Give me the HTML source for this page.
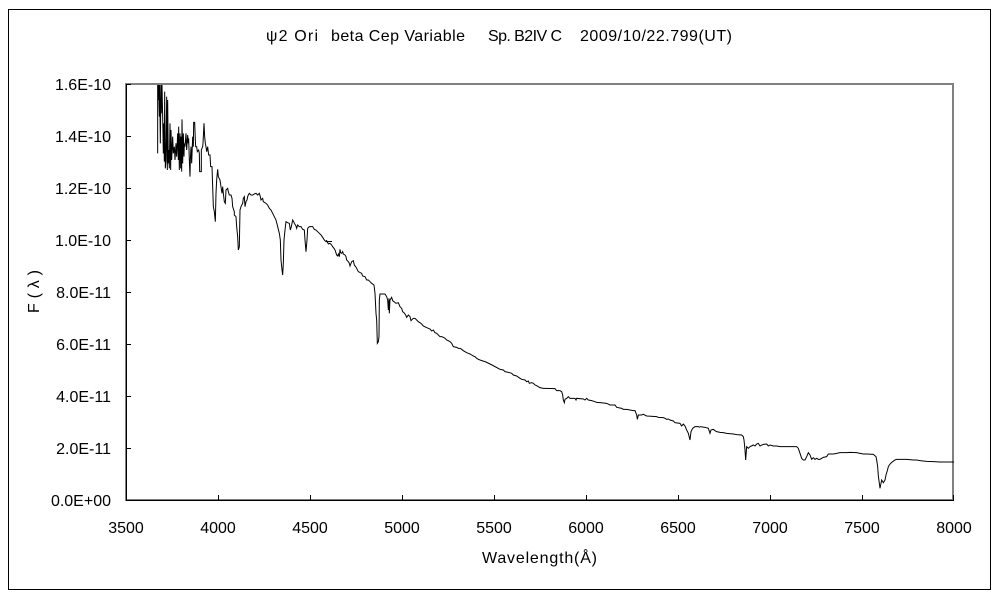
<!DOCTYPE html>
<html>
<head>
<meta charset="utf-8">
<style>
  html,body{margin:0;padding:0;background:#fff;}
  svg{display:block;}
  text{font-family:"Liberation Sans","Noto Sans CJK JP",sans-serif;fill:#000;}
</style>
</head>
<body>
<svg width="1000" height="600" viewBox="0 0 1000 600" xmlns="http://www.w3.org/2000/svg">
  <rect x="0" y="0" width="1000" height="600" fill="#fff"/>
  <!-- outer chart border -->
  <rect x="8.5" y="9.5" width="982" height="580" fill="none" stroke="#000" stroke-width="1"/>

  <!-- title -->
  <text y="41" font-size="16">
    <tspan x="266" textLength="52" lengthAdjust="spacing">ψ2 Ori</tspan>
    <tspan x="331" textLength="134" lengthAdjust="spacing">beta Cep Variable</tspan>
    <tspan x="488" textLength="74" lengthAdjust="spacing">Sp. B2IV C</tspan>
    <tspan x="580" textLength="152" lengthAdjust="spacing">2009/10/22.799(UT)</tspan>
  </text>

  <!-- plot area border (gray) -->
  <rect x="126" y="84" width="827" height="416" fill="none" stroke="#808080" stroke-width="2"/>
  <!-- axes -->
  <line x1="126.5" y1="84" x2="126.5" y2="500.5" stroke="#000" stroke-width="1"/>
  <line x1="126" y1="500.5" x2="954" y2="500.5" stroke="#000" stroke-width="1"/>

  <!-- y ticks -->
  <g stroke="#000" stroke-width="1">
    <line x1="126" y1="448.5" x2="131" y2="448.5"/>
    <line x1="126" y1="396.5" x2="131" y2="396.5"/>
    <line x1="126" y1="344.5" x2="131" y2="344.5"/>
    <line x1="126" y1="292.5" x2="131" y2="292.5"/>
    <line x1="126" y1="240.5" x2="131" y2="240.5"/>
    <line x1="126" y1="188.5" x2="131" y2="188.5"/>
    <line x1="126" y1="136.5" x2="131" y2="136.5"/>
    <line x1="126" y1="84.5" x2="131" y2="84.5"/>
  <!-- x ticks -->
    <line x1="218.5" y1="495" x2="218.5" y2="500"/>
    <line x1="310.5" y1="495" x2="310.5" y2="500"/>
    <line x1="402.5" y1="495" x2="402.5" y2="500"/>
    <line x1="494.5" y1="495" x2="494.5" y2="500"/>
    <line x1="586.5" y1="495" x2="586.5" y2="500"/>
    <line x1="678.5" y1="495" x2="678.5" y2="500"/>
    <line x1="770.5" y1="495" x2="770.5" y2="500"/>
    <line x1="862.5" y1="495" x2="862.5" y2="500"/>
    <line x1="953.5" y1="495" x2="953.5" y2="500"/>
  </g>

  <!-- y tick labels -->
  <g font-size="16" text-anchor="end">
    <text x="111" y="506">0.0E+00</text>
    <text x="111" y="454">2.0E-11</text>
    <text x="111" y="402">4.0E-11</text>
    <text x="111" y="350">6.0E-11</text>
    <text x="111" y="298">8.0E-11</text>
    <text x="111" y="246">1.0E-10</text>
    <text x="111" y="194">1.2E-10</text>
    <text x="111" y="142">1.4E-10</text>
    <text x="111" y="90">1.6E-10</text>
  </g>
  <!-- x tick labels -->
  <g font-size="16" text-anchor="middle">
    <text x="126" y="533">3500</text>
    <text x="218" y="533">4000</text>
    <text x="310" y="533">4500</text>
    <text x="402" y="533">5000</text>
    <text x="494" y="533">5500</text>
    <text x="586" y="533">6000</text>
    <text x="678" y="533">6500</text>
    <text x="770" y="533">7000</text>
    <text x="862" y="533">7500</text>
    <text x="954" y="533">8000</text>
  </g>

  <!-- axis titles -->
  <text x="482" y="563" font-size="16" textLength="115" lengthAdjust="spacing">Wavelength(Å)</text>
  <text transform="translate(39,313) rotate(-90)" font-size="16" textLength="43" lengthAdjust="spacing">F(λ)</text>

  <defs>
    <clipPath id="pa"><rect x="126" y="84" width="828" height="416"/></clipPath>
  </defs>

  <g clip-path="url(#pa)" fill="none" stroke="#000" stroke-width="1" stroke-linejoin="miter">
    <g transform="translate(126,80) scale(0.3333333)">
      <polyline vector-effect="non-scaling-stroke" points="95,220 95,15 97,60 98,15 100,110 101,15 103,190 105,15 106,100 108,15 110,110 112,220 113,130 115,245 116,35 118,265 120,240 122,50 124,270 125,60 127,250 128,210 130,265 132,130 134,270 135,150 137,240 140,170 142,220 145,200 147,240 150,190 152,230 155,160 157,240 158,140 160,270 162,160 164,265 165,170 167,275 168,118 170,250 172,160 174,230 175,190 177,200 180,160 182,210 185,165 187,190 188,175 190,240 192,290 193,240 195,200 197,250 200,170 202,200 203,127 206,127 208,180 209,200 212,200 214,215 218,210 220,220 221,275 226,275 226,210 230,200 231,190 234,130 236,170 238,190 240,200 242,215 245,200 248,225 252,225 254,260 258,260 260,320 262,380 265,395 268,425 270,340 272,300 275,268 277,290 282,300 285,320 288,340 290,320 292,340 295,365 298,370 300,330 305,325 307,335 310,345 315,345 318,355 320,380 325,395 325,405 330,410 332,440 335,470 337,510 340,500 342,390 345,380 350,370 352,355 355,350 357,380 360,365 363,360 365,350 367,345 370,340 375,345 380,345 385,342 390,340 395,345 400,340 403,350 405,360 410,355 412,365 420,370 425,375 430,385 435,390 440,400 445,410 450,420 455,440 460,460 463,480 465,540 468,570 470,585 472,550 474,480 477,450 480,425 485,428 490,430 493,450 496,440 500,420 503,425 505,430 510,438 512,445 515,435 520,440 525,440 530,448 535,450 537,480 540,515 543,480 545,445 550,440 555,440 560,440 565,448 570,450 575,455 580,460 585,465 590,472 595,480 600,485 618,484.5"/>
    </g>
    <g transform="translate(320,200) scale(0.3333333)">
      <polyline vector-effect="non-scaling-stroke" points="18,121.5 20,122 25,132 30,130 35,135 38,140 42,145 45,150 50,165 53,168 55,162 58,170 60,148 62,158 65,160 68,155 70,162 75,165 78,170 80,180 85,185 88,190 90,198 95,185 100,182 103,195 107,200 110,205 115,215 125,220 128,228 135,230 140,240 145,240 150,245 155,250 162,255 165,280 168,340 170,360 172,430 175,425 177,410 178,300 180,282 195,282 200,290 203,300 205,330 207,295 208,340 210,300 215,292 218,302 222,305 228,310 235,308 240,320 245,325 248,335 252,338 257,345 260,352 265,345 270,350 273,362 280,355 285,355 290,360 295,365 300,368 305,372 310,378 318,382 325,385 330,387 335,393 340,390 345,398 350,400 355,405 360,410 365,410 370,412 375,415 380,420 385,422 390,425 395,430 400,440 410,442 415,445 420,445 425,448 430,452 435,455 440,458 445,460 450,462 455,465 460,468 465,470 470,475 475,478 480,480"/>
    </g>
    <polyline points="480,360 486,362 492,365 500,369.3"/>
    <g transform="translate(500,320) scale(0.3333333)">
      <polyline vector-effect="non-scaling-stroke" points="0,148 10,150 15,155 25,157 35,160 40,165 50,168 60,175 65,178 75,180 80,185 85,183 88,190 95,188 100,190 105,195 110,197 115,200 120,203 130,205 135,205 165,206 170,212 180,212 185,215 188,225 190,240 193,248 195,238 200,235 205,230 210,235 215,235 225,235 228,240 230,235 250,237 255,240 260,235 265,240 275,242 285,245 290,247 300,248 320,250 330,255 345,255 350,262 365,265 370,268 380,268 390,270 400,272 405,272 410,285 412,298 415,285 425,285 430,283 440,288 470,290 475,292 490,293 495,295 500,298 505,297 510,300 520,303 525,308 540,310 545,318 550,312 555,318 560,330 565,340 570,360 573,335 578,325 585,320 595,320 600,322"/>
    </g>
    <g transform="translate(600,400) scale(0.3333333)">
      <polyline vector-effect="non-scaling-stroke" points="300,80 315,82 325,85 330,100 333,90 340,88 345,92 350,95 360,97 370,98 380,100 400,102 410,104 425,105 430,110 432,120 435,150 437,180 440,140 445,145 450,140 460,135 465,138 470,132 475,130 480,138 490,133 500,132 505,138 510,135 520,138 530,138 540,140 555,140 570,140 580,140 590,140 595,145 600,160 605,175 610,180 615,180 620,170 625,158 630,165 635,178 640,173 645,178 650,175 655,178 660,178 665,175 670,172 680,170 685,162 700,162 710,160 720,158 740,158 750,157 770,158 780,160 790,162 800,162 820,163 828,170 830,180 833,200 835,228 838,250 840,265 843,250 845,240 848,245 850,248 855,240 858,225 862,212 865,200 868,195 872,190 878,185 885,180 890,178 920,178 940,180 950,180 960,182 970,183 980,184 1000,185 1020,186 1040,186 1063,186"/>
    </g>
  </g>
</svg>
</body>
</html>
